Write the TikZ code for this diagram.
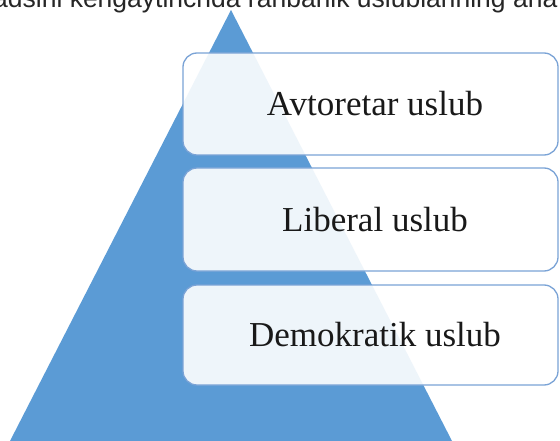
\documentclass[tikz,border=0pt]{standalone}
\usepackage{fontspec}
\setmainfont{Liberation Serif}
\newfontfamily\headfont{Liberation Sans}
\definecolor{triblue}{HTML}{5B9BD5}
\definecolor{boxline}{HTML}{7AA3D6}
\begin{document}
\begin{tikzpicture}[x=1pt,y=-1pt,
  stylebox/.style={draw=boxline,line width=1.3pt,fill=white,fill opacity=0.9,rounded corners=14pt},
  boxtext/.style={font=\fontsize{35}{40}\selectfont,text=black!90}]
\useasboundingbox (0,0) rectangle (560,441);
\clip (0,0) rectangle (560,441);
\fill[white] (0,0) rectangle (560,441);
\node[anchor=base west,inner sep=0pt,font=\headfont\fontsize{26.5}{30}\selectfont,text=black!85] (head) at (-7,8) {adsini kengaytinchda rahbarlik uslublarining ana};
\fill[triblue] (231,10) -- (452,441) -- (10,441) -- cycle;
\draw[stylebox] (183,53) rectangle (558,155);
\draw[stylebox] (183,168) rectangle (558,271);
\draw[stylebox] (183,285) rectangle (558,385);
\node[boxtext] (b1) at (375,104) {Avtoretar uslub};
\node[boxtext] (b2) at (375,219.5) {Liberal uslub};
\node[boxtext] (b3) at (375,335) {Demokratik uslub};
\end{tikzpicture}
\end{document}
